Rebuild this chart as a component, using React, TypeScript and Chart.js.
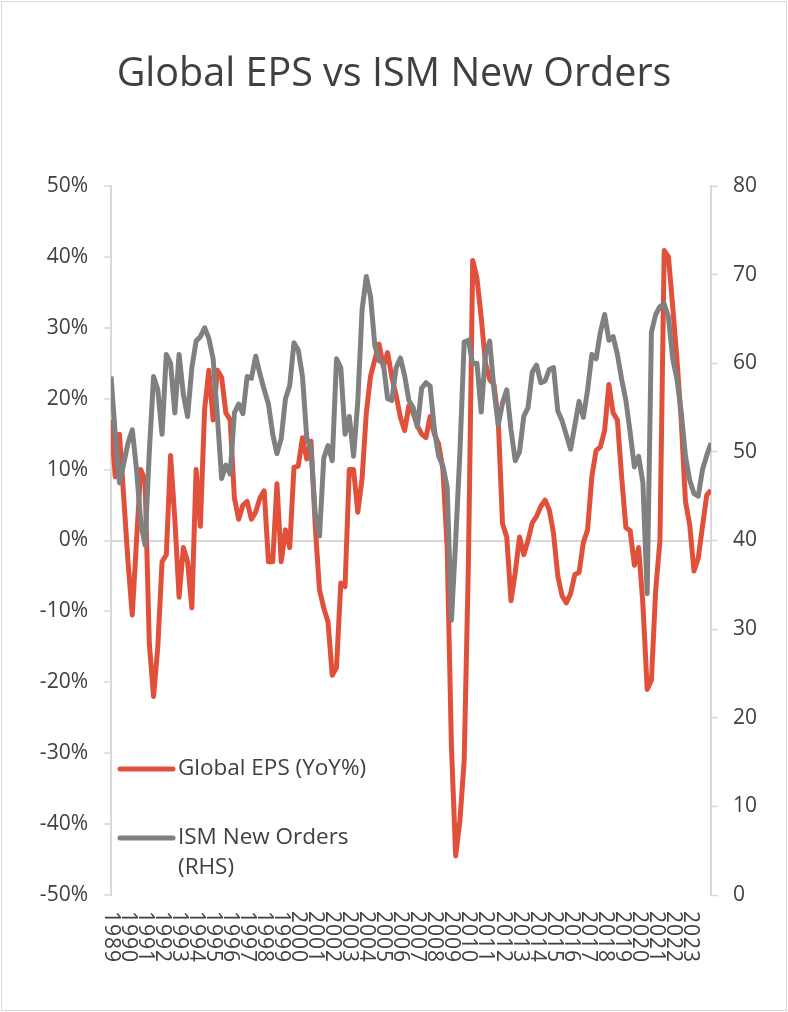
import React, { useEffect, useRef } from 'react';
import { Chart, registerables } from 'chart.js';

Chart.register(...registerables);

// ---- Data (quarterly readings, starting Q1 1989) ----
const yearLabels = [
  '1989', '1990', '1991', '1992', '1993', '1994', '1995', '1996', '1997', '1998',
  '1999', '2000', '2001', '2002', '2003', '2004', '2005', '2006', '2007', '2008',
  '2009', '2010', '2011', '2012', '2013', '2014', '2015', '2016', '2017', '2018',
  '2019', '2020', '2021', '2022', '2023',
];

const startYear = 1989;
const yearsPerPoint = 0.25;

// Global EPS, YoY %
const epsValues = [
  17, 9, 15, 6, -3, -10.5, 0, 10, 8.5, -14.5,
  -22, -15, -3, -2, 12, 3, -8, -1, -3, -9.5,
  10, 2, 18.5, 24, 17, 24, 23, 18, 17, 6,
  3, 5, 5.5, 3, 4, 6, 7, -3, -3, 8,
  -3, 1.5, -1, 10.3, 10.5, 14.5, 11.5, 14, 2, -7,
  -9.5, -11.5, -19, -17.9, -6, -6.5, 10, 10, 4, 8.7,
  18, 23.2, 25.5, 27.7, 24.5, 26.5, 23, 20.5, 17.4, 15.5,
  19, 18, 16.2, 15, 14.5, 17.5, 15, 13.6, 10, -1,
  -29, -44.5, -39.5, -31, -3, 39.5, 37, 31.5, 25, 22.7,
  22, 17, 2.4, 0.5, -8.5, -4.5, 0.5, -2, 0, 2.5,
  3.4, 4.8, 5.7, 4.3, 1, -5, -7.8, -8.8, -7.5, -4.8,
  -4.5, -0.3, 1.5, 9, 12.7, 13.2, 15.5, 22, 18, 17,
  9, 1.8, 1.4, -3.5, -1, -9, -21, -19.7, -7, 0,
  40.9, 40, 33, 25.5, 17, 5.5, 2.2, -4.3, -2.5, 2,
  6.4, 7.1,
];

// ISM New Orders (RHS)
const ismValues = [
  58.5, 52, 46.5, 48.7, 51, 52.5, 48, 42, 39.5, 50,
  58.5, 57, 52, 61, 60, 54.4, 61, 56.5, 54, 59.5,
  62.5, 63, 64, 62.8, 60.5, 54, 47, 48.5, 47.5, 54.4,
  55.4, 54.3, 58.5, 58.3, 60.8, 58.8, 57, 55.4, 52, 49.8,
  51.5, 56, 57.5, 62.3, 61.5, 58.5, 51.6, 50.3, 43, 40.5,
  49.3, 50.7, 49, 60.5, 59.5, 52, 54, 49.5, 55.7, 66,
  69.8, 67.5, 62, 60.3, 60, 56, 55.8, 59.5, 60.6, 58.6,
  55.8, 55, 52.8, 57.2, 57.8, 57.4, 52.5, 49.5, 48.4, 46,
  31, 40, 50, 62.4, 62.6, 59.9, 60, 54.5, 61, 62.5,
  57, 53, 55.5, 57, 52.5, 49, 50, 54, 55, 59,
  59.8, 57.8, 58, 59.3, 59.5, 54.6, 53.5, 51.9, 50.3, 53,
  55.7, 53.9, 57, 61, 60.5, 63.5, 65.5, 62.6, 63, 61,
  58.2, 55.8, 52.2, 48.3, 49.5, 46.5, 34, 63.5, 65.5, 66.4,
  66.7, 65.2, 60.5, 58.2, 54.5, 49.5, 46.8, 45.3, 45, 48,
  49.6, 51,
];

const pointYears = epsValues.map((_, i) => startYear + i * yearsPerPoint);
const lastYear = pointYears[pointYears.length - 1];

const TITLE = 'Global EPS vs ISM New Orders';
const EPS_LABEL = 'Global EPS (YoY%)';
const ISM_LABEL = 'ISM New Orders (RHS)';

const RED = '#E0503A';
const GRAY = '#808080';
const TEXT = '#404040';
const AXIS = '#D9D9D9';
const FONT = "'Open Sans', 'DejaVu Sans', sans-serif";

function wrapText(ctx: CanvasRenderingContext2D, text: string, maxWidth: number): string[] {
  const words = text.split(' ');
  const lines: string[] = [];
  let cur = '';
  for (const w of words) {
    const test = cur ? cur + ' ' + w : w;
    if (ctx.measureText(test).width > maxWidth && cur) {
      lines.push(cur);
      cur = w;
    } else {
      cur = test;
    }
  }
  if (cur) lines.push(cur);
  return lines;
}

const customDraw = {
  id: 'customDraw',
  afterDraw(chart: any) {
    const { ctx, chartArea, scales } = chart;
    const xs = scales.x;
    ctx.save();
    // rotated year labels (reading top to bottom)
    ctx.fillStyle = TEXT;
    ctx.font = `21px ${FONT}`;
    try {
      (ctx as any).letterSpacing = '1px';
    } catch (e) {
      /* ignore */
    }
    ctx.textAlign = 'left';
    ctx.textBaseline = 'middle';
    yearLabels.forEach((lbl) => {
      const px = xs.getPixelForValue(Number(lbl));
      ctx.save();
      ctx.translate(px, chartArea.bottom + 16);
      ctx.rotate(Math.PI / 2);
      ctx.fillText(lbl, 0, 0);
      ctx.restore();
    });
    try {
      (ctx as any).letterSpacing = '0px';
    } catch (e) {
      /* ignore */
    }

    // legend inside plot area, lower left
    const items = [
      { ds: chart.data.datasets[0], y: chartArea.bottom - 126 },
      { ds: chart.data.datasets[1], y: chartArea.bottom - 57 },
    ];
    ctx.font = `22.5px ${FONT}`;
    items.forEach(({ ds, y }) => {
      ctx.beginPath();
      ctx.lineCap = 'round';
      ctx.lineWidth = 5;
      ctx.strokeStyle = ds.borderColor;
      ctx.moveTo(chartArea.left + 9, y);
      ctx.lineTo(chartArea.left + 62, y);
      ctx.stroke();
      const lines = wrapText(ctx, ds.label, 210);
      lines.forEach((ln, i) => {
        ctx.fillText(ln, chartArea.left + 67, y + i * 30);
      });
    });
    ctx.restore();
  },
};

export default function App() {
  const canvasRef = useRef<HTMLCanvasElement | null>(null);

  useEffect(() => {
    if (!canvasRef.current) return;
    const chart = new Chart(canvasRef.current, {
      type: 'line',
      data: {
        datasets: [
          {
            label: EPS_LABEL,
            data: pointYears.map((x, i) => ({ x, y: epsValues[i] })),
            borderColor: RED,
            backgroundColor: RED,
            borderWidth: 5,
            pointRadius: 0,
            borderJoinStyle: 'round',
            tension: 0,
            yAxisID: 'y',
            order: 2,
          },
          {
            label: ISM_LABEL,
            data: pointYears.map((x, i) => ({ x, y: ismValues[i] })),
            borderColor: GRAY,
            backgroundColor: GRAY,
            borderWidth: 5,
            pointRadius: 0,
            borderJoinStyle: 'round',
            tension: 0,
            yAxisID: 'y1',
            order: 1,
          },
        ],
      },
      options: {
        animation: false,
        responsive: true,
        maintainAspectRatio: false,
        layout: { padding: 0 },
        plugins: {
          legend: { display: false },
          tooltip: { enabled: false },
          title: {
            display: true,
            text: TITLE,
            color: TEXT,
            font: { family: FONT, size: 39.5, weight: 'normal' },
            padding: { top: 51, bottom: 87.6 },
          },
        },
        scales: {
          x: {
            type: 'linear',
            min: startYear,
            max: lastYear,
            grid: { display: false },
            border: { display: false },
            ticks: { display: false },
            afterFit(s: any) {
              s.height = 117;
            },
          },
          y: {
            position: 'left',
            min: -50,
            max: 50,
            ticks: {
              stepSize: 10,
              color: TEXT,
              font: { family: FONT, size: 21 },
              padding: 16,
              callback: (v: any) => `${v}%`,
            },
            grid: {
              color: (c: any) => (c.tick && c.tick.value === 0 ? AXIS : 'rgba(0,0,0,0)'),
              lineWidth: 2,
              tickColor: AXIS,
              tickLength: 7,
              tickWidth: 1.5,
            },
            border: { color: AXIS, width: 2 },
            afterFit(s: any) {
              s.width = 111;
            },
          },
          y1: {
            position: 'right',
            min: 0,
            max: 80,
            ticks: {
              stepSize: 10,
              color: TEXT,
              font: { family: FONT, size: 21 },
              padding: 15,
            },
            grid: {
              drawOnChartArea: false,
              tickColor: AXIS,
              tickLength: 7,
              tickWidth: 1.5,
            },
            border: { color: AXIS, width: 2 },
            afterFit(s: any) {
              s.width = 77;
            },
          },
        },
      },
      plugins: [customDraw],
    });
    return () => chart.destroy();
  }, []);

  return (
    <div style={{ position: 'absolute', left: 0, top: 0, width: 788, height: 1012, background: '#fff' }}>
      <canvas ref={canvasRef} style={{ width: '100%', height: '100%' }} />
      <div
        style={{
          position: 'absolute',
          left: 1,
          top: 1,
          width: 786,
          height: 1010,
          boxSizing: 'border-box',
          border: '1px solid #D9D9D9',
          pointerEvents: 'none',
        }}
      />
    </div>
  );
}
